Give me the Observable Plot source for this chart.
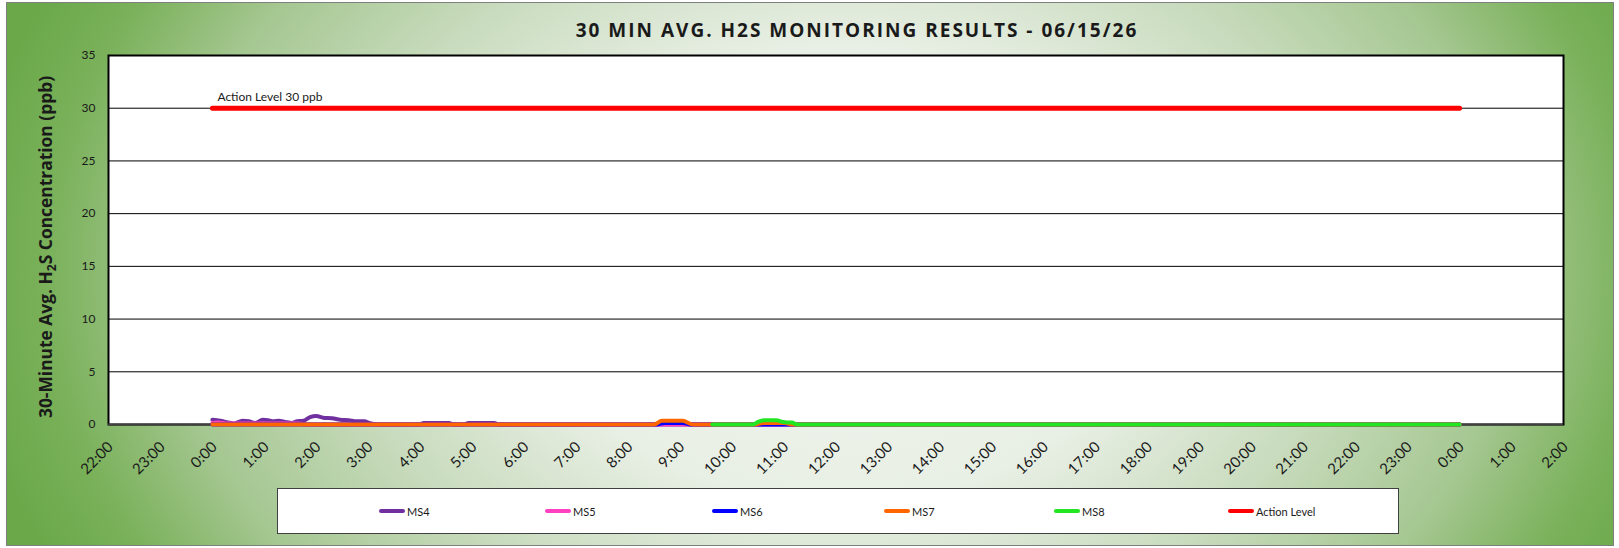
<!DOCTYPE html>
<html>
<head>
<meta charset="utf-8">
<script src="https://cdn.jsdelivr.net/npm/d3@7"></script>
<script src="https://cdn.jsdelivr.net/npm/@observablehq/plot@0.6"></script>
<style>
  html, body { margin: 0; padding: 0; background: #ffffff; }
  #page { position: relative; width: 1619px; height: 548px; overflow: hidden; font-family: Lato, "Open Sans", sans-serif; }
  #bg { position: absolute; left: 6px; top: 2px; width: 1606px; height: 542px; border: 1px solid #7f7f7f;
        background: radial-gradient(ellipse 55% 120% at 52% 50%, #f4f7f2 0%, #e8efe4 35%, #c8dbbd 57%, #a5c791 76%, #7ab15a 90%, #6aa84a 100%); }
  #title { position: absolute; left: 0; width: 1714px; top: 17px; text-align: center; font-family: "Open Sans", sans-serif; font-weight: bold; font-size: 19px; letter-spacing: 2px; color: #1a1a1a; }
  #ylabel { position: absolute; left: 45px; top: 247px; transform: translate(-50%, -50%) rotate(-90deg); white-space: nowrap; font-family: "Open Sans", sans-serif; font-weight: bold; font-size: 17.4px; color: #1a1a1a; }
  #ylabel sub { font-size: 12px; vertical-align: -4px; line-height: 0; }
  #chart { position: absolute; left: 0; top: 0; }
  #legend { position: absolute; left: 277px; top: 488px; width: 1120px; height: 44px; background: #fff; border: 1.5px solid #404040; }
  .item { position: absolute; top: 0; height: 44px; display: flex; align-items: center; font-size: 11px; color: #1a1a1a; }
  .sw { display: inline-block; width: 26px; height: 4px; border-radius: 2px; margin-right: 2px; }
</style>
</head>
<body>
<div id="page">
  <div id="bg"></div>
  <div id="title">30 MIN AVG. H2S MONITORING RESULTS - 06/15/26</div>
  <div id="chart"></div>
  <div id="ylabel">30-Minute Avg. H<sub>2</sub>S Concentration (ppb)</div>
  <div id="legend"></div>
</div>
<script>
// ---- data (hours from 0:00 of the day) ----
const seriesNames = ["MS4", "MS5", "MS6", "MS7", "MS8", "Action Level"];
const seriesColors = ["#7030a0", "#ff40c0", "#0000ff", "#ff6600", "#22e622", "#ff0000"];

const ms4Time = [0, 0.15, 0.3, 0.42, 0.58, 0.7, 0.82, 0.97, 1.07, 1.17, 1.28, 1.4, 1.53, 1.63, 1.75, 1.88, 2.0, 2.13, 2.3, 2.46, 2.62, 2.78, 2.92, 3.05, 3.2, 3.97, 4.07, 4.55, 4.65, 4.83, 4.93, 5.42, 5.52, 24];
const ms4Value = [0.45, 0.35, 0.2, 0.1, 0.35, 0.3, 0.15, 0.45, 0.4, 0.3, 0.35, 0.25, 0.15, 0.3, 0.35, 0.7, 0.8, 0.65, 0.6, 0.45, 0.4, 0.3, 0.3, 0.1, 0, 0, 0.15, 0.15, 0, 0, 0.15, 0.15, 0, 0];

const ms5Time = [0, 0.1, 0.3, 0.6, 1.0, 1.4, 1.65, 1.8, 24];
const ms5Value = [0.15, 0.2, 0.1, 0.1, 0.1, 0.1, 0.1, 0, 0];

const ms6Time = [0, 8.55, 8.7, 9.05, 9.2, 24];
const ms6Value = [0, 0, 0.15, 0.15, 0, 0];

const ms7Time = [0, 8.5, 8.65, 9.05, 9.25, 10.45, 10.6, 11.0, 11.15, 24];
const ms7Value = [0, 0, 0.35, 0.35, 0, 0, 0.15, 0.15, 0, 0];

const ms8Time = [9.62, 10.4, 10.5, 10.62, 10.85, 10.97, 11.05, 11.15, 11.25, 24];
const ms8Value = [0, 0, 0.25, 0.4, 0.4, 0.25, 0.2, 0.2, 0, 0];

const actionTime = [0, 24];
const actionValue = [30, 30];
const actionLabel = "Action Level 30 ppb";

const xTicks = [-2, -1, 0, 1, 2, 3, 4, 5, 6, 7, 8, 9, 10, 11, 12, 13, 14, 15, 16, 17, 18, 19, 20, 21, 22, 23, 24, 25, 26];
const xTickLabels = ["22:00", "23:00", "0:00", "1:00", "2:00", "3:00", "4:00", "5:00", "6:00", "7:00", "8:00", "9:00", "10:00", "11:00", "12:00", "13:00", "14:00", "15:00", "16:00", "17:00", "18:00", "19:00", "20:00", "21:00", "22:00", "23:00", "0:00", "1:00", "2:00"];
const yTicks = [0, 5, 10, 15, 20, 25, 30, 35];
const yGrid = [5, 10, 15, 20, 25, 30];

// ---- build tables ----
const toRows = (ts, vs) => ts.map((t, i) => ({t, v: vs[i]}));
const series = [
  toRows(ms4Time, ms4Value),
  toRows(ms5Time, ms5Value),
  toRows(ms6Time, ms6Value),
  toRows(ms7Time, ms7Value),
  toRows(ms8Time, ms8Value)
];
const action = toRows(actionTime, actionValue);

const lineMarks = series.map((rows, i) => Plot.line(rows, {
  x: "t", y: "v", stroke: seriesColors[i], strokeWidth: 4, curve: "monotone-x",
  strokeLinecap: "round", strokeLinejoin: "round"
}));

const chart = Plot.plot({
  width: 1619,
  height: 548,
  marginLeft: 108,
  marginRight: 56,
  marginTop: 55,
  marginBottom: 124,
  style: {background: "transparent", fontFamily: "Lato, 'Open Sans', sans-serif", fontSize: "12px", color: "#1a1a1a"},
  x: {domain: [-2, 26], type: "linear"},
  y: {domain: [0, 35]},
  marks: [
    Plot.frame({fill: "white"}),
    Plot.ruleY(yGrid, {stroke: "#000", strokeWidth: 1}),
    Plot.frame({stroke: "#000", strokeWidth: 2}),
    Plot.ruleY([0], {stroke: "#404040", strokeWidth: 2}),
    ...lineMarks,
    Plot.line(action, {x: "t", y: "v", stroke: seriesColors[5], strokeWidth: 5, strokeLinecap: "round"}),
    Plot.text([action[0]], {x: "t", y: "v", text: () => actionLabel, textAnchor: "start", dx: 5, dy: -11, fontSize: 12, fill: "#1a1a1a"}),
    Plot.axisY({ticks: yTicks, tickSize: 0, tickPadding: 13, label: null, fontSize: 12}),
    Plot.axisX({ticks: xTicks, tickFormat: (d) => xTickLabels[xTicks.indexOf(d)], tickRotate: -45, tickSize: 0, tickPadding: 20, dx: 2, label: null, fontSize: 15})
  ]
});
document.getElementById("chart").appendChild(chart);

// ---- legend ----
const legendX = [378, 544, 711, 883, 1053, 1227];
const legend = document.getElementById("legend");
seriesNames.forEach((name, i) => {
  const it = document.createElement("div");
  it.className = "item";
  it.style.left = (legendX[i] - 277) + "px";
  it.innerHTML = `<span class="sw" style="background:${seriesColors[i]}"></span><span>${name}</span>`;
  legend.appendChild(it);
});
</script>
</body>
</html>
